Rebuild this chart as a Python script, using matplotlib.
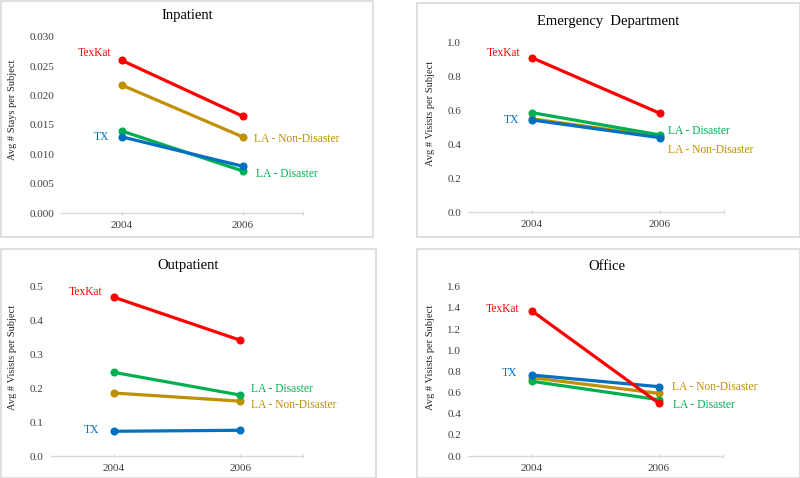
import matplotlib
matplotlib.use("Agg")
import matplotlib.pyplot as plt
from matplotlib.patches import Rectangle

plt.rcParams['font.family'] = ['Liberation Serif', 'DejaVu Serif']

years = [2004, 2006]
series = ['TexKat', 'LA - Non-Disaster', 'LA - Disaster', 'TX']
colors = {'TexKat': '#FF0000', 'LA - Non-Disaster': '#BF9000',
          'LA - Disaster': '#00B050', 'TX': '#0070C0'}

inpatient = {'TexKat': [0.0260, 0.0165], 'LA - Non-Disaster': [0.0218, 0.0130],
             'LA - Disaster': [0.0140, 0.0072], 'TX': [0.0130, 0.0080]}
emergency = {'TexKat': [0.909, 0.582], 'LA - Non-Disaster': [0.550, 0.445],
             'LA - Disaster': [0.586, 0.455], 'TX': [0.543, 0.439]}
outpatient = {'TexKat': [0.469, 0.342], 'LA - Non-Disaster': [0.186, 0.162],
              'LA - Disaster': [0.247, 0.180], 'TX': [0.073, 0.076]}
office = {'TexKat': [1.373, 0.498], 'LA - Non-Disaster': [0.740, 0.592],
          'LA - Disaster': [0.706, 0.532], 'TX': [0.765, 0.655]}

W, H = 800, 478
fig = plt.figure(figsize=(W / 100, H / 100), dpi=100)


def fx(x):
    return x / W


def fy(y):
    return 1 - y / H


# panel frames (pixels: left, top, right, bottom)
frames = [(0.5, 0.5, 373, 237), (417, 3, 799.5, 237),
          (0.5, 249, 376, 477.5), (417, 249, 799.5, 477.5)]
for l, t, r, b in frames:
    fig.patches.append(Rectangle((fx(l), fy(b)), fx(r - l), (b - t) / H,
                                 transform=fig.transFigure, fill=False,
                                 edgecolor='#d9d9d9', linewidth=1.2))

# name, data, ylabel, ylim, yticks, fmt, plot rect px, title pos, ylabel pos, label offsets (px)
panels = [
    ('Inpatient', inpatient, 'Avg # Stays per Subject', 0.030, 0.005, '%.3f',
     (61, 36.7, 303, 213.3), (187, 16), (13, 110),
     {'TexKat': (0, -10, 7), 'TX': (0, -12, 0),
      'LA - Non-Disaster': (1, 11, -2), 'LA - Disaster': (1, 14, -3)}),
    ('Emergency  Department', emergency, 'Avg # Visists per Subject', 1.0, 0.2, '%.1f',
     (468, 42.3, 724, 212.3), (608, 21), (431, 113),
     {'TexKat': (0, -12, 5), 'TX': (0, -13, 0),
      'LA - Disaster': (1, 8, 4), 'LA - Non-Disaster': (1, 8, -13)}),
    ('Outpatient', outpatient, 'Avg # Visists per Subject', 0.5, 0.1, '%.1f',
     (50.7, 286.7, 303.3, 456), (188, 266), (13, 357),
     {'TexKat': (0, -11, 5), 'TX': (0, -15, 1),
      'LA - Disaster': (1, 11, 6), 'LA - Non-Disaster': (1, 11, -4)}),
    ('Office', office, 'Avg # Visists per Subject', 1.6, 0.2, '%.1f',
     (468, 286.7, 722.7, 456), (607, 266), (431, 357),
     {'TexKat': (0, -12, 2), 'TX': (0, -15, 2),
      'LA - Non-Disaster': (1, 13, 6), 'LA - Disaster': (1, 14, -5)}),
]

draw_order = ['LA - Non-Disaster', 'LA - Disaster', 'TX', 'TexKat']

for (title, data, ylabel, ymax, ystep, fmt, rect, tpos, lpos, offs) in panels:
    l, t, r, b = rect
    ax = fig.add_axes([fx(l), fy(b), fx(r - l), (b - t) / H])
    for name in draw_order:
        vals = data[name]
        ax.plot(years, vals, color=colors[name], linewidth=2.3, marker='o',
                markersize=4.8, solid_capstyle='round', zorder=3)
    for name in series:
        idx, dx, dy = offs[name]
        ax.annotate(name, (years[idx], data[name][idx]), xytext=(dx, dy),
                    textcoords='offset pixels', color=colors[name], fontsize=8.3,
                    ha='right' if idx == 0 else 'left', va='center')
    ax.set_xlim(2003, 2007)
    ax.set_ylim(0, ymax)
    n = int(round(ymax / ystep))
    yt = [i * ystep for i in range(n + 1)]
    ax.set_yticks(yt)
    ax.set_yticklabels([fmt % v for v in yt])
    ax.set_xticks([2004, 2006, 2007])
    ax.set_xticklabels(['2004', '2006', ''])
    for s in ['top', 'right', 'left']:
        ax.spines[s].set_visible(False)
    ax.spines['bottom'].set_color('#d9d9d9')
    ax.spines['bottom'].set_linewidth(1.0)
    ax.tick_params(axis='y', length=0, labelsize=8, pad=5, colors='#404040')
    ax.tick_params(axis='x', length=3, direction='inout', color='#d9d9d9',
                   labelsize=8, pad=4, labelcolor='#404040')
    ax.set_facecolor('none')
    fig.text(fx(tpos[0]), fy(tpos[1]), title, fontsize=10.5, ha='center',
             va='center', color='black')
    fig.text(fx(lpos[0]), fy(lpos[1]), ylabel, fontsize=7.5, rotation=90,
             ha='center', va='center', color='#262626')

fig.savefig('out.png', dpi=100)
